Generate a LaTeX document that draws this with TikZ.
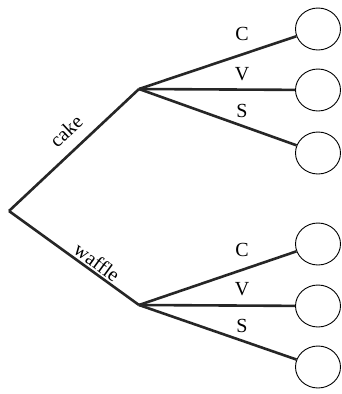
\documentclass[tikz,border=0pt]{standalone}
\usepackage{fontspec}
\setmainfont{Liberation Serif}
\usetikzlibrary{shapes.geometric}
\begin{document}
\begin{tikzpicture}[x=1pt,y=-1pt,
  branch/.style={line width=2.6pt, color=black!85},
  leaf/.style={ellipse, draw, line width=0.9pt, minimum width=45pt, minimum height=42pt, inner sep=0pt},
  lbl/.style={font=\fontsize{20}{22}\selectfont, inner sep=0pt},
  pt/.style={coordinate}]
\useasboundingbox (0,0) rectangle (341,394);
\node[pt] (root) at (9,211) {};
\node[pt] (cake) at (139,89) {};
\node[pt] (waffle) at (139,305) {};
\node[leaf] (c1) at (318,29) {};
\node[leaf] (c2) at (318,90) {};
\node[leaf] (c3) at (318,153) {};
\node[leaf] (w1) at (318,244) {};
\node[leaf] (w2) at (318,306) {};
\node[leaf] (w3) at (318,367) {};
\draw[branch] (root) -- (cake);
\draw[branch] (root) -- (waffle);
\draw[branch] (cake) -- (c1);
\draw[branch] (cake) -- (c2);
\draw[branch] (cake) -- (c3);
\draw[branch] (waffle) -- (w1);
\draw[branch] (waffle) -- (w2);
\draw[branch] (waffle) -- (w3);
\node[lbl] (lc1) at (242,34) {C};
\node[lbl] (lc2) at (242,74) {V};
\node[lbl] (lc3) at (242,111) {S};
\node[lbl] (lw1) at (242,250) {C};
\node[lbl] (lw2) at (242,289) {V};
\node[lbl] (lw3) at (242,326) {S};
\node[lbl, rotate=43] (lcake) at (66,131) {cake};
\node[lbl, rotate=-36] (lwaffle) at (97,262) {waffle};
\end{tikzpicture}
\end{document}
